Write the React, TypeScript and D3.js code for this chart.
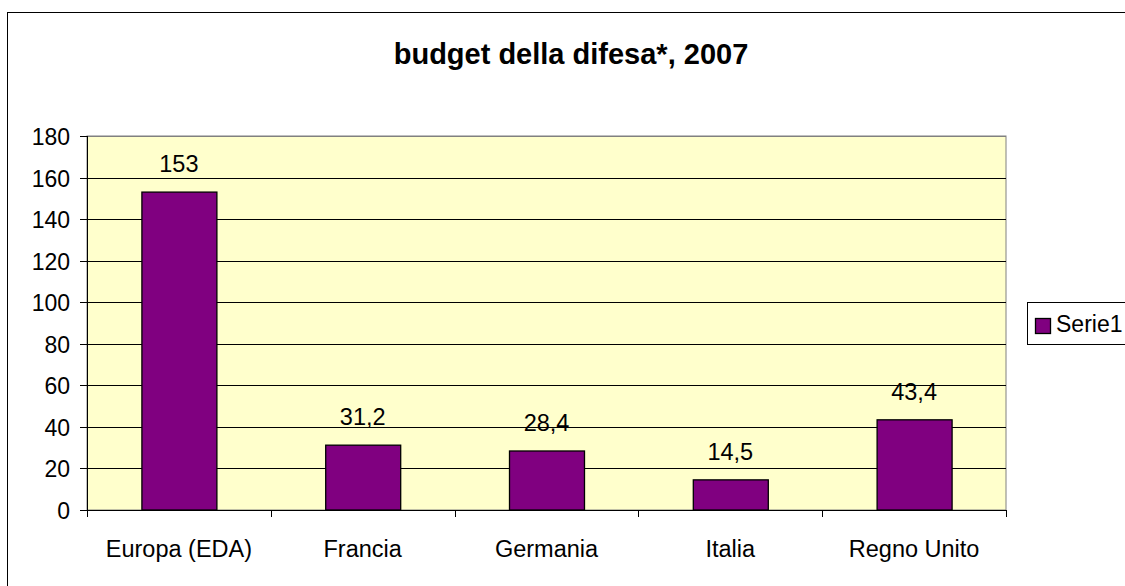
import * as d3 from 'd3';

const categories = ['Europa (EDA)', 'Francia', 'Germania', 'Italia', 'Regno Unito'];
const values = [153, 31.2, 28.4, 14.5, 43.4];
const valueLabels = ['153', '31,2', '28,4', '14,5', '43,4'];
const yTicks = [0, 20, 40, 60, 80, 100, 120, 140, 160, 180];
const seriesName = 'Serie1';
const title = 'budget della difesa*, 2007';

const W = 1125;
const H = 586;
const plot = { left: 87, right: 1006, top: 136, bottom: 510 };
const font = '"Liberation Sans", Arial, sans-serif';

const App = () => {
  const x = d3
    .scaleBand<string>()
    .domain(categories)
    .range([plot.left, plot.right])
    .paddingInner(0.592)
    .paddingOuter(0.296);
  const slot = d3.scaleBand<string>().domain(categories).range([plot.left, plot.right]);
  const y = d3.scaleLinear().domain([0, 180]).range([plot.bottom, plot.top]);

  const boundaries = [...categories.map((c) => slot(c) ?? 0), plot.right];

  return (
    <svg
      width={W}
      height={H}
      style={{ position: 'absolute', left: 0, top: 0, background: '#fff' }}
      fontFamily={font}
    >
      <rect x={7.5} y={12.5} width={1300} height={800} fill="#fff" stroke="#000" strokeWidth={1} />
      <text x={571} y={64} textAnchor="middle" fontSize={29} fontWeight="bold" fill="#000">
        {title}
      </text>

      {/* plot area */}
      <rect
        x={plot.left}
        y={plot.top}
        width={plot.right - plot.left}
        height={plot.bottom - plot.top}
        fill="#FFFFCC"
        stroke="#808080"
        strokeWidth={1}
      />
      {yTicks.slice(1).map((t) => (
        <line
          key={t}
          x1={plot.left}
          x2={plot.right}
          y1={Math.round(y(t)) + 0.5}
          y2={Math.round(y(t)) + 0.5}
          stroke={t === 180 ? '#808080' : '#000'}
          strokeWidth={1}
        />
      ))}

      {/* bars */}
      {categories.map((c, i) => (
        <rect
          key={c}
          x={(x(c) ?? 0) + 0.5}
          y={y(values[i])}
          width={x.bandwidth()}
          height={y(0) - y(values[i])}
          fill="#800080"
          stroke="#000"
          strokeWidth={1.3}
        />
      ))}
      {categories.map((c, i) => (
        <text
          key={c}
          x={(x(c) ?? 0) + x.bandwidth() / 2}
          y={y(values[i]) - 20}
          textAnchor="middle"
          fontSize={23.5}
          fill="#000"
        >
          {valueLabels[i]}
        </text>
      ))}

      {/* y axis */}
      <line x1={plot.left + 0.5} x2={plot.left + 0.5} y1={plot.top} y2={plot.bottom} stroke="#000" />
      {yTicks.map((t) => (
        <g key={t} transform={`translate(0,${Math.round(y(t)) + 0.5})`}>
          <line x1={80} x2={plot.left} stroke="#000" />
          <text x={70} y={8} textAnchor="end" fontSize={23} fill="#000">
            {t}
          </text>
        </g>
      ))}

      {/* x axis */}
      <line x1={plot.left} x2={plot.right} y1={plot.bottom + 0.5} y2={plot.bottom + 0.5} stroke="#000" />
      {boundaries.map((b, i) => (
        <line
          key={i}
          x1={Math.round(b) + 0.5}
          x2={Math.round(b) + 0.5}
          y1={plot.bottom}
          y2={plot.bottom + 7}
          stroke="#000"
        />
      ))}
      {categories.map((c) => (
        <text
          key={c}
          x={(slot(c) ?? 0) + slot.bandwidth() / 2}
          y={557}
          textAnchor="middle"
          fontSize={23.5}
          fill="#000"
        >
          {c}
        </text>
      ))}

      {/* legend */}
      <rect x={1027.5} y={302.5} width={130} height={42} fill="#fff" stroke="#000" />
      <rect x={1035.5} y={318.5} width={15} height={15} fill="#800080" stroke="#000" strokeWidth={1.3} />
      <text x={1056} y={332} fontSize={23} fill="#000">
        {seriesName}
      </text>
    </svg>
  );
};

export default App;
